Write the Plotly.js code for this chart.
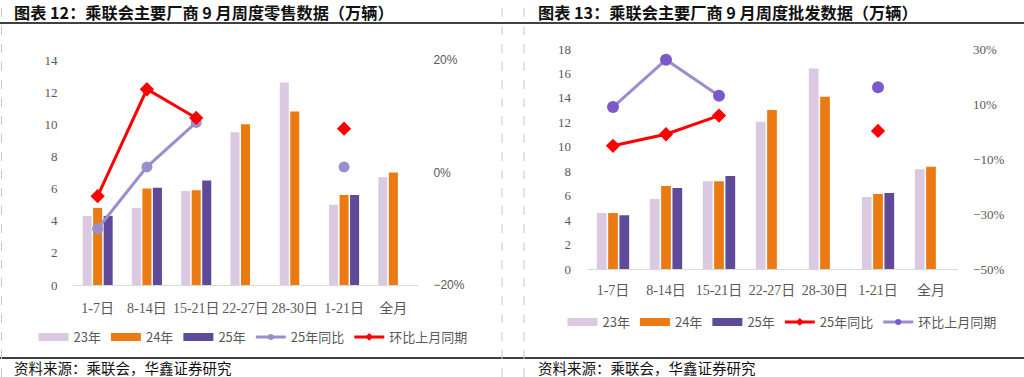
<!DOCTYPE html>
<html>
<head>
<meta charset="utf-8">
<script src="https://cdn.plot.ly/plotly-3.0.1.min.js"></script>
<style>
html,body{margin:0;padding:0;background:#fff;}
#chart{width:1024px;height:377px;}
</style>
</head>
<body>
<div id="chart"></div>
<script>
// ---- data ----
const categories = ['1-7日','8-14日','15-21日','22-27日','28-30日','1-21日','全月'];

// 零售 (万辆)
const retail23 = [4.3, 4.8, 5.85, 9.5, 12.6, 5.0, 6.7];
const retail24 = [4.8, 6.0, 5.9, 10.0, 10.8, 5.6, 7.0];
const retail25 = [4.3, 6.05, 6.5, null, null, 5.6, null];
const retailYoY = [-0.10, 0.01, 0.089, null, null, 0.01, null];
const retailMoM = [-0.042, 0.148, 0.097, null, null, 0.078, null];

// 批发 (万辆)
const whole23 = [4.58, 5.73, 7.17, 12.05, 16.4, 5.9, 8.16];
const whole24 = [4.58, 6.79, 7.17, 13.0, 14.1, 6.14, 8.37];
const whole25 = [4.39, 6.63, 7.61, null, null, 6.22, null];
const wholeYoY = [-0.052, -0.01, 0.058, null, null, 0.002, null];
const wholeMoM = [0.089, 0.261, 0.13, null, null, 0.161, null];

const seriesNames = ['23年','24年','25年'];
const leftLineNames = ['25年同比','环比上月同期'];
const rightLineNames = ['25年同比','环比上月同期'];

const leftTitle = '图表 12：乘联会主要厂商 9 月周度零售数据（万辆）';
const rightTitle = '图表 13：乘联会主要厂商 9 月周度批发数据（万辆）';
const sourceText = '资料来源：乘联会，华鑫证券研究';

// ---- styles ----
const C23 = '#DBC9E1', C24 = '#EC7A12', C25 = '#5F4A99';
const RED = '#FF0000', PURL = '#9C8ECD', PURD = '#7A5ACB';
const W = 1024, H = 377;
const px = v => v / W, py = v => 1 - v / H;
const serif = 'Liberation Serif, Noto Sans CJK SC, serif';
const sans = 'Noto Sans CJK SC, Liberation Sans, sans-serif';
const tickGray = '#595959';

function bar(y, name, color, xa, ya) {
  return {type:'bar', x:categories, y:y, name:name, marker:{color:color}, xaxis:xa, yaxis:ya, showlegend:false};
}
function line(y, name, lc, mc, sym, size, xa, ya) {
  return {type:'scatter', mode:'lines+markers', x:categories, y:y, name:name, connectgaps:false,
    line:{color:lc, width:3}, marker:{symbol:sym, size:size, color:mc}, xaxis:xa, yaxis:ya, showlegend:false};
}
// legend-only keys (no data points)
function keyBar(name, color, xa, ya, lg) {
  return {type:'scatter', mode:'lines', x:[null], y:[null], name:name, line:{color:color, width:8},
    xaxis:xa, yaxis:ya, legend:lg, hoverinfo:'skip'};
}
function keyLine(name, lc, mc, sym, xa, ya, lg) {
  return {type:'scatter', mode:'lines+markers', x:[null], y:[null], name:name, line:{color:lc, width:3},
    marker:{symbol:sym, size:6, color:mc}, xaxis:xa, yaxis:ya, legend:lg, hoverinfo:'skip'};
}

const traces = [
  bar(retail23, seriesNames[0], C23, 'x', 'y'),
  bar(retail24, seriesNames[1], C24, 'x', 'y'),
  bar(retail25, seriesNames[2], C25, 'x', 'y'),
  line(retailYoY, leftLineNames[0], PURL, PURL, 'circle', 11, 'x', 'y2'),
  line(retailMoM, leftLineNames[1], RED, RED, 'diamond', 11, 'x', 'y2'),

  bar(whole23, seriesNames[0], C23, 'x2', 'y3'),
  bar(whole24, seriesNames[1], C24, 'x2', 'y3'),
  bar(whole25, seriesNames[2], C25, 'x2', 'y3'),
  line(wholeYoY, rightLineNames[0], RED, RED, 'diamond', 11, 'x2', 'y4'),
  line(wholeMoM, rightLineNames[1], PURL, PURD, 'circle', 12, 'x2', 'y4'),

  keyBar(seriesNames[0], C23, 'x', 'y2', 'legend'),
  keyBar(seriesNames[1], C24, 'x', 'y2', 'legend'),
  keyBar(seriesNames[2], C25, 'x', 'y2', 'legend'),
  keyLine(leftLineNames[0], PURL, PURL, 'circle', 'x', 'y2', 'legend'),
  keyLine(leftLineNames[1], RED, RED, 'diamond', 'x', 'y2', 'legend'),

  keyBar(seriesNames[0], C23, 'x2', 'y4', 'legend2'),
  keyBar(seriesNames[1], C24, 'x2', 'y4', 'legend2'),
  keyBar(seriesNames[2], C25, 'x2', 'y4', 'legend2'),
  keyLine(rightLineNames[0], RED, RED, 'diamond', 'x2', 'y4', 'legend2'),
  keyLine(rightLineNames[1], PURL, PURD, 'circle', 'x2', 'y4', 'legend2')
];

const xCommon = {type:'category', showline:true, linecolor:'#D9D9D9', linewidth:1, showgrid:false, zeroline:false,
  ticks:'outside', ticklen:8, tickcolor:'rgba(0,0,0,0)', tickfont:{family:serif, size:14, color:tickGray}};
const yCommon = {showgrid:false, zeroline:false, showline:false, ticks:'outside', ticklen:12, tickcolor:'rgba(0,0,0,0)'};
const legendCommon = {orientation:'h', xanchor:'center', yanchor:'middle', font:{family:sans, size:13, color:tickGray},
  bgcolor:'rgba(0,0,0,0)', itemwidth:30, tracegroupgap:0};

const layout = {
  width:W, height:H, margin:{l:0, r:0, t:0, b:0},
  paper_bgcolor:'#fff', plot_bgcolor:'rgba(0,0,0,0)',
  barmode:'group', bargap:0.36, bargroupgap:0.14,
  showlegend:true,
  xaxis:Object.assign({}, xCommon, {domain:[px(73), px(418)], anchor:'y', ticklen:10}),
  yaxis:Object.assign({}, yCommon, {domain:[py(285), py(60)], range:[0,14], dtick:2, anchor:'x',
    tickfont:{family:serif, size:13, color:tickGray}}),
  yaxis2:Object.assign({}, yCommon, {overlaying:'y', side:'right', anchor:'x', range:[-0.2,0.2], dtick:0.2, tickformat:'.0%',
    tickfont:{family:'Liberation Sans, sans-serif', size:12, color:tickGray}}),
  xaxis2:Object.assign({}, xCommon, {domain:[px(586.5), px(957.5)], anchor:'y3'}),
  yaxis3:Object.assign({}, yCommon, {domain:[py(269), py(49)], range:[0,18], dtick:2, anchor:'x2',
    tickfont:{family:serif, size:13, color:tickGray}}),
  yaxis4:Object.assign({}, yCommon, {overlaying:'y3', side:'right', anchor:'x2', range:[-0.5,0.3],
    tickvals:[-0.5,-0.3,-0.1,0.1,0.3], tickformat:'.0%', tickfont:{family:serif, size:13, color:tickGray}}),
  legend:Object.assign({}, legendCommon, {x:px(253), y:py(337)}),
  legend2:Object.assign({}, legendCommon, {x:px(782), y:py(322)}),
  shapes:[
    {type:'line', xref:'paper', yref:'paper', x0:0, x1:1, y0:py(23), y1:py(23), line:{color:'#000', width:1.5}},
    {type:'line', xref:'paper', yref:'paper', x0:0, x1:1, y0:py(358), y1:py(358), line:{color:'#000', width:1.5}},
    {type:'line', xref:'paper', yref:'paper', x0:px(1.5), x1:px(1.5), y0:0, y1:1, line:{color:'#C8C8C8', width:1, dash:'dash'}},
    {type:'line', xref:'paper', yref:'paper', x0:px(502), x1:px(502), y0:0, y1:1, line:{color:'#C8C8C8', width:1, dash:'dash'}},
    {type:'line', xref:'paper', yref:'paper', x0:px(524), x1:px(524), y0:0, y1:1, line:{color:'#C8C8C8', width:1, dash:'dash'}}
  ],
  annotations:[
    {xref:'paper', yref:'paper', x:px(12), y:py(11.5), xanchor:'left', yanchor:'middle', showarrow:false,
     text:'<b>'+leftTitle+'</b>', font:{family:sans, size:16.2, color:'#111'}},
    {xref:'paper', yref:'paper', x:px(536), y:py(11.5), xanchor:'left', yanchor:'middle', showarrow:false,
     text:'<b>'+rightTitle+'</b>', font:{family:sans, size:16.2, color:'#111'}},
    {xref:'paper', yref:'paper', x:px(12), y:py(367), xanchor:'left', yanchor:'middle', showarrow:false,
     text:sourceText, font:{family:sans, size:14.5, color:'#111'}},
    {xref:'paper', yref:'paper', x:px(536), y:py(367), xanchor:'left', yanchor:'middle', showarrow:false,
     text:sourceText, font:{family:sans, size:14.5, color:'#111'}}
  ]
};

Plotly.newPlot('chart', traces, layout, {staticPlot:true, displayModeBar:false});
</script>
</body>
</html>
